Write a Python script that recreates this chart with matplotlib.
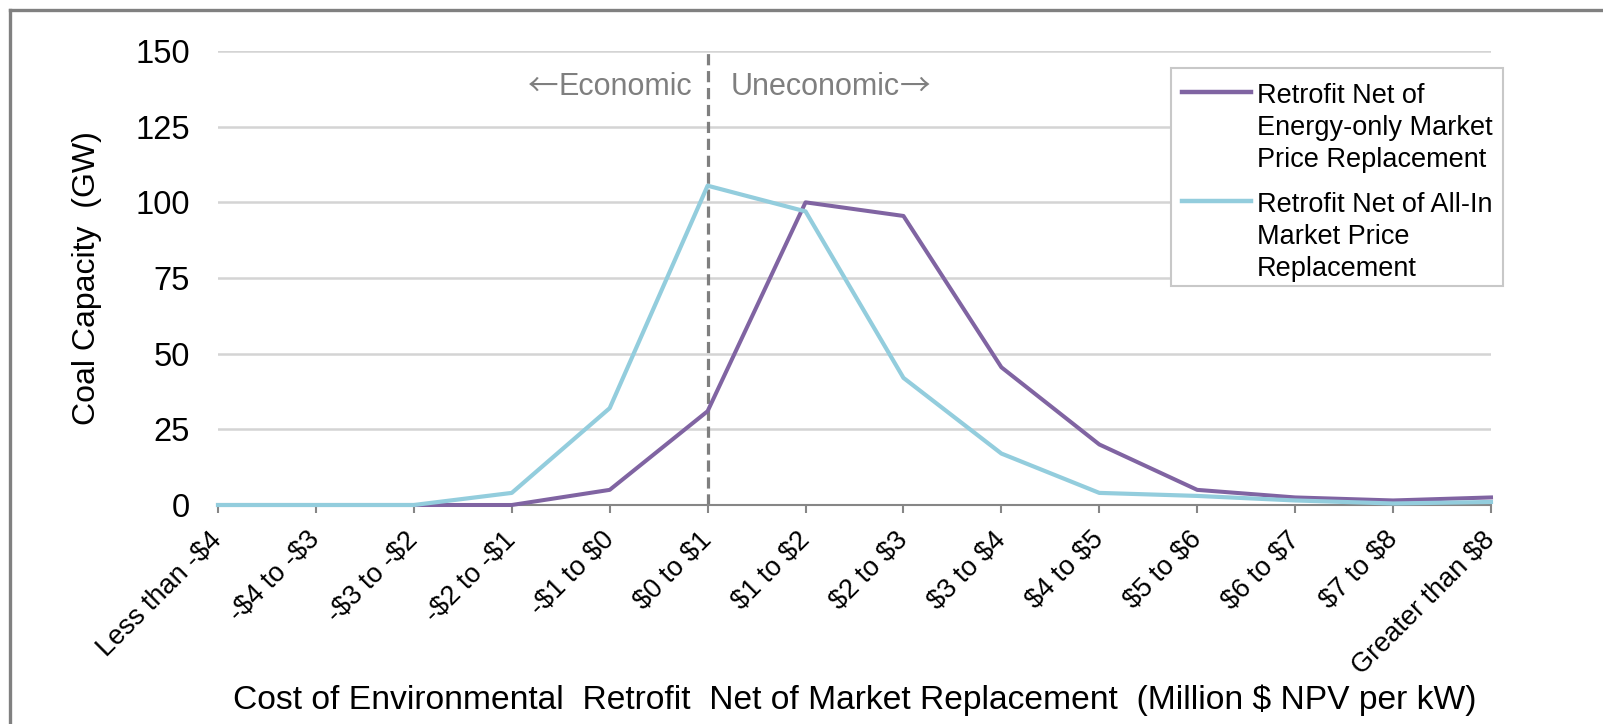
import matplotlib
matplotlib.use("Agg")
import matplotlib.pyplot as plt
from matplotlib.lines import Line2D
from matplotlib.patches import Rectangle

# Cost buckets (million $ NPV per kW) and coal capacity in each (GW)
categories = ["Less than -$4", "-$4 to -$3", "-$3 to -$2", "-$2 to -$1", "-$1 to $0",
              "$0 to $1", "$1 to $2", "$2 to $3", "$3 to $4", "$4 to $5",
              "$5 to $6", "$6 to $7", "$7 to $8", "Greater than $8"]
energy_only = [0, 0, 0, 0, 5, 31, 100, 95.5, 45.5, 20, 5, 2.5, 1.5, 2.5]
all_in = [0, 0, 0, 4, 32, 105.5, 97, 42, 17, 4, 3, 1.5, 0.5, 1]
series_names = ["Retrofit Net of\nEnergy-only Market\nPrice Replacement",
                "Retrofit Net of All-In\nMarket Price\nReplacement"]
series_colors = ["#8064A2", "#93CDDD"]
yticks = [0, 25, 50, 75, 100, 125, 150]
divider_category = "$0 to $1"
left_note = "Economic"
right_note = "Uneconomic"
xlabel = "Cost of Environmental  Retrofit  Net of Market Replacement  (Million $ NPV per kW)"
ylabel = "Coal Capacity  (GW)"

plt.rcParams["font.family"] = ["Liberation Sans", "DejaVu Sans"]


def esc(s):
    return s.replace("$", r"\$")


W, H = 1603, 724
fig = plt.figure(figsize=(W / 100, H / 100), dpi=100)
fig.patch.set_facecolor("white")


def fx(px):
    return px / W


def fy(py):
    return 1 - py / H


# outer frame (top and left edges)
fig.add_artist(Line2D([fx(10), 1.0], [fy(10), fy(10)], transform=fig.transFigure,
                      color="#808080", lw=2.4))
fig.add_artist(Line2D([fx(10), fx(10)], [fy(10), 0.0], transform=fig.transFigure,
                      color="#808080", lw=2.4))

ax = fig.add_axes([fx(218), fy(505), (1491 - 218) / W, (505 - 51) / H])
x = list(range(len(categories)))

ax.set_xlim(0, len(categories) - 1)
ax.set_ylim(yticks[0], yticks[-1])
ax.set_yticks(yticks)
ax.yaxis.grid(True, color="#D4D4D4", lw=1.8)
ax.set_axisbelow(True)
for side in ("top", "right", "left"):
    ax.spines[side].set_visible(False)
ax.spines["bottom"].set_color("#868686")
ax.spines["bottom"].set_linewidth(1.5)

ax.set_xticks(x)
ax.set_xticklabels([esc(c) for c in categories], rotation=45, ha="right",
                   va="center", rotation_mode="anchor", fontsize=19.5)
ax.tick_params(axis="x", length=6, width=1.5, color="#868686", pad=16)
ax.tick_params(axis="y", length=0, pad=20, labelsize=23.5)

# divider between economic and uneconomic retrofits
div = categories.index(divider_category)
ax.axvline(div, color="#7F7F7F", lw=2.3, ls=(0, (3.5, 1.8)), zorder=2)
note_kw = dict(va="center", fontsize=22, color="#7F7F7F")
arrow_kw = dict(va="center", fontsize=22, color="#7F7F7F",
                family=["Noto Sans CJK SC", "DejaVu Sans"])
t_left = ax.text(div - 0.16, 138, left_note, ha="right", **note_kw)
ax.annotate("\u2190", xy=(0, 0.5), xycoords=t_left, ha="right", **arrow_kw)
t_right = ax.text(div + 0.24, 138, right_note, ha="left", **note_kw)
ax.annotate("\u2192", xy=(1, 0.5), xycoords=t_right, ha="left", **arrow_kw)

ax.plot(x, energy_only, color=series_colors[0], lw=2.9, clip_on=False, zorder=3)
ax.plot(x, all_in, color=series_colors[1], lw=3.0, clip_on=False, zorder=4)

ax.set_ylabel(ylabel, fontsize=23)
ax.yaxis.label.set_verticalalignment("center")
ax.yaxis.set_label_coords((87 - 218) / 1273, 0.5)
ax.set_xlabel(esc(xlabel), fontsize=24.2)
ax.xaxis.label.set_verticalalignment("center")
ax.xaxis.set_label_coords(0.5, (505 - 700) / 454)

# legend box with handles aligned to the first line of each entry
fig.add_artist(Rectangle((fx(1171), fy(286)), (1503 - 1171) / W, (286 - 68) / H,
                         transform=fig.transFigure, facecolor="white",
                         edgecolor="#C8C8C8", lw=1.5, zorder=5))
entry_tops = [103, 212]
line_step = 32
for name, color, base in zip(series_names, series_colors, entry_tops):
    fig.add_artist(Line2D([fx(1182), fx(1251)], [fy(base - 11), fy(base - 11)],
                          transform=fig.transFigure, color=color, lw=3.2, zorder=6))
    for i, part in enumerate(name.split("\n")):
        fig.text(fx(1257), fy(base + i * line_step), part, ha="left", va="baseline",
                 fontsize=19.5, color="black", zorder=6)

fig.savefig("out.png", dpi=100, facecolor="white")
